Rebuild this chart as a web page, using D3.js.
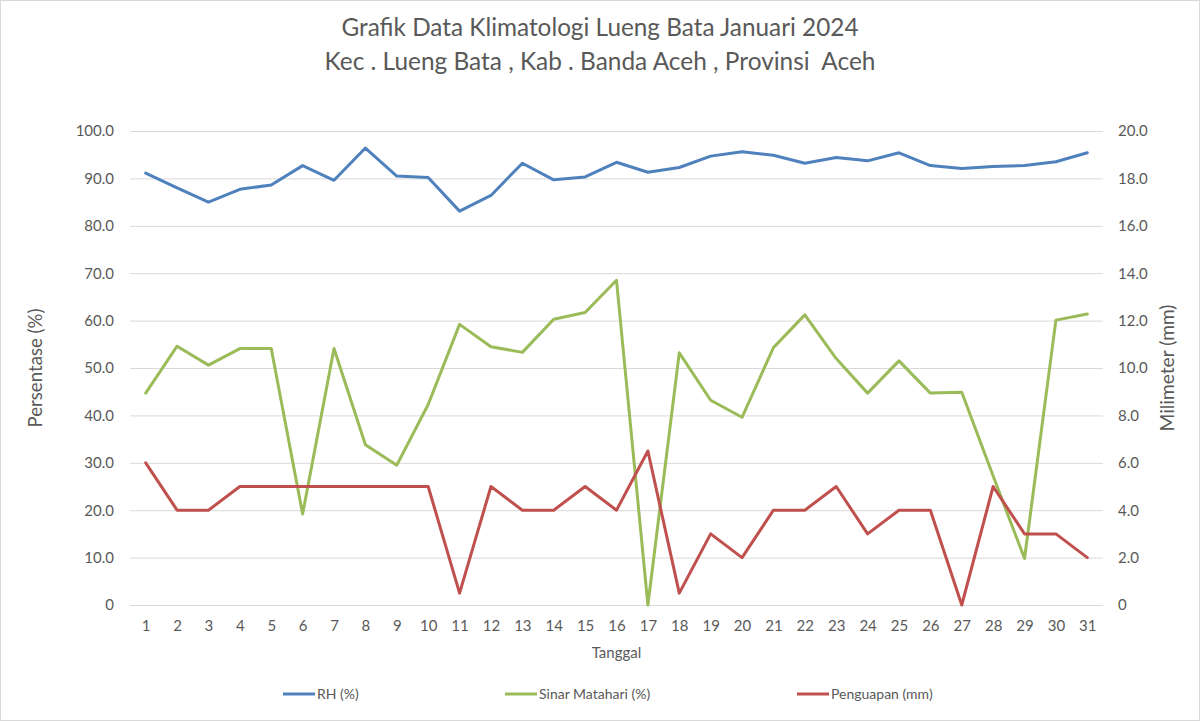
<!DOCTYPE html>
<html><head><meta charset="utf-8">
<script src="https://cdn.jsdelivr.net/npm/d3@7"></script>
<style>body{margin:0;background:#fff}svg{display:block}text{white-space:pre}</style>
</head><body>
<script>
const days = d3.range(1, 32);
const rh = [91.1,88.0,85.0,87.7,88.6,92.7,89.6,96.4,90.5,90.2,83.1,86.4,93.2,89.7,90.3,93.4,91.3,92.3,94.7,95.6,94.9,93.2,94.4,93.7,95.4,92.7,92.1,92.5,92.7,93.5,95.4];
const sinar = [44.7,54.6,50.6,54.1,54.1,19.2,54.1,33.8,29.5,42.3,59.2,54.5,53.3,60.3,61.7,68.5,0,53.2,43.2,39.6,54.3,61.2,52.0,44.7,51.5,44.7,44.9,27.2,9.8,60.1,61.4];
const penguapan = [6.0,4.0,4.0,5.0,5.0,5.0,5.0,5.0,5.0,5.0,0.5,5.0,4.0,4.0,5.0,4.0,6.5,0.5,3.0,2.0,4.0,4.0,5.0,3.0,4.0,4.0,0,5.0,3.0,3.0,2.0];
const leftTicks = [0,10,20,30,40,50,60,70,80,90,100];
const rightTicks = [0,2,4,6,8,10,12,14,16,18,20];
const titleLines = ["Grafik Data Klimatologi Lueng Bata Januari 2024","Kec . Lueng Bata , Kab . Banda Aceh , Provinsi  Aceh"];
const seriesNames = ["RH (%)","Sinar Matahari (%)","Penguapan (mm)"];
const colors = ["#4f81bd","#9bbb59","#c0504d"];

const W = 1200, H = 721;
const font = "Lato, 'Open Sans', sans-serif";
const txt = "#595959";
const svg = d3.select("body").append("svg").attr("width", W).attr("height", H);
svg.append("rect").attr("x",0.5).attr("y",0.5).attr("width",W-1).attr("height",H-1).attr("fill","#fff").attr("stroke","#d9d9d9");

const plot = {l:130, r:1103, t:131, b:605};
const x = d3.scalePoint().domain(days).range([plot.l, plot.r]).padding(0.5);
const yL = d3.scaleLinear().domain([0,100]).range([plot.b, plot.t]);
const yR = d3.scaleLinear().domain([0,20]).range([plot.b, plot.t]);

// grid
svg.append("g").selectAll("line").data(leftTicks).join("line")
  .attr("x1", plot.l).attr("x2", plot.r)
  .attr("y1", d=>yL(d)+0.5).attr("y2", d=>yL(d)+0.5)
  .attr("stroke","#d9d9d9").attr("stroke-width",1);

const fmt = d => d===0 ? "0" : d3.format(".1f")(d);
const axL = svg.append("g").attr("transform",`translate(${plot.l},0)`)
  .call(d3.axisLeft(yL).tickValues(leftTicks).tickFormat(fmt).tickSize(0).tickPadding(16));
const axR = svg.append("g").attr("transform",`translate(${plot.r},0)`)
  .call(d3.axisRight(yR).tickValues(rightTicks).tickFormat(fmt).tickSize(0).tickPadding(15));
const axB = svg.append("g").attr("transform",`translate(0,${plot.b})`)
  .call(d3.axisBottom(x).tickSize(0).tickPadding(15));
[axL,axR,axB].forEach(a=>{
  a.select(".domain").remove();
  a.selectAll("text").attr("fill",txt).style("font-family",font).style("font-size","15px");
});

// lines
const series = [
  {vals: rh, y: yL},
  {vals: sinar, y: yL},
  {vals: penguapan, y: yR}
];
series.forEach((s,i)=>{
  const line = d3.line().x((d,j)=>x(days[j])).y(d=>s.y(d));
  svg.append("path").datum(s.vals).attr("d", line)
    .attr("fill","none").attr("stroke", colors[i]).attr("stroke-width",3)
    .attr("stroke-linejoin","round").attr("stroke-linecap","round");
});

function fitText(el, base, target){
  const w = el.node().getComputedTextLength();
  el.style("font-size", (base*target/w).toFixed(2)+"px");
}

// titles
const tl = svg.append("g").attr("font-family",font).attr("fill",txt).attr("text-anchor","middle");
const tw = [517, 551];
titleLines.forEach((t,i)=>{
  const el = tl.append("text").attr("x", 600).attr("y", 36 + i*34).style("font-size","22px").text(t);
  fitText(el, 22, tw[i]);
});
svg.append("text").attr("x", (plot.l+plot.r)/2).attr("y", 658).attr("text-anchor","middle")
  .attr("fill",txt).style("font-family",font).style("font-size","15px").text("Tanggal");
const yt1 = svg.append("text").attr("transform","translate(42,368) rotate(-90)").attr("text-anchor","middle")
  .attr("fill",txt).style("font-family",font).style("font-size","18px").text("Persentase (%)");
fitText(yt1, 18, 119);
const yt2 = svg.append("text").attr("transform","translate(1174,368) rotate(-90)").attr("text-anchor","middle")
  .attr("fill",txt).style("font-family",font).style("font-size","18px").text("Milimeter (mm)");
fitText(yt2, 18, 127);

// legend
const legX = [283, 505, 797];
const lg = svg.append("g");
seriesNames.forEach((n,i)=>{
  lg.append("line").attr("x1",legX[i]).attr("x2",legX[i]+32).attr("y1",694).attr("y2",694)
    .attr("stroke",colors[i]).attr("stroke-width",3);
  lg.append("text").attr("x",legX[i]+34).attr("y",699).attr("fill",txt)
    .style("font-family",font).style("font-size","14px").text(n);
});
</script>
</body></html>
